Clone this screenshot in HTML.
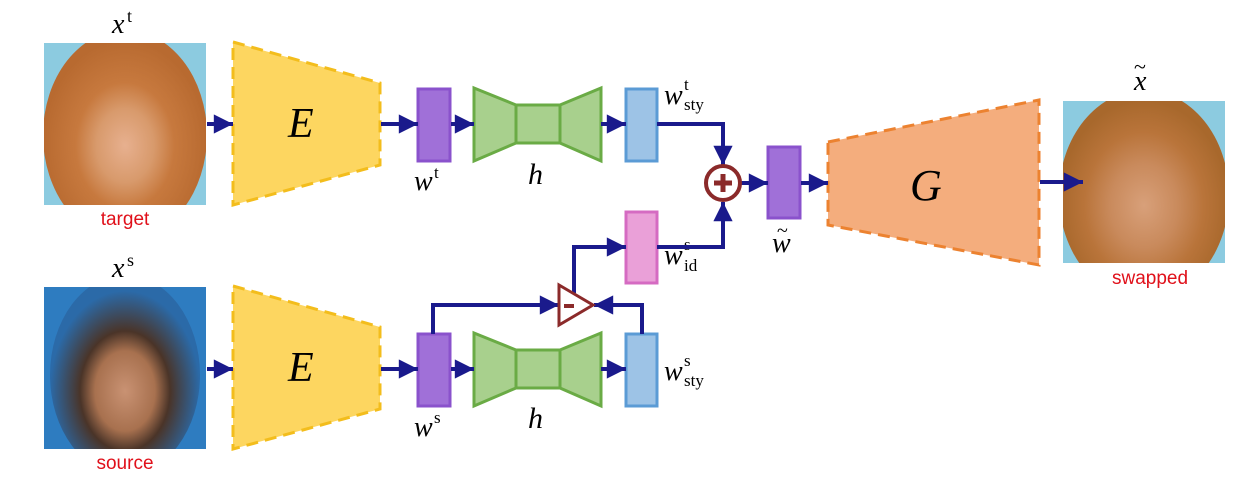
<!DOCTYPE html>
<html><head><meta charset="utf-8"><style>
html,body{margin:0;padding:0;background:#fff;width:1247px;height:495px;overflow:hidden}
svg text{font-family:"Liberation Serif",serif;font-style:italic}
.lab{font-family:"Liberation Sans",sans-serif;font-style:normal;fill:#e0101a;font-size:19px}
.up{font-style:normal}
</style></head><body>
<svg width="1247" height="495" viewBox="0 0 1247 495" xmlns="http://www.w3.org/2000/svg">
<defs>
<marker id="a" viewBox="0 0 10 10" refX="10" refY="5" markerWidth="5" markerHeight="4.8" orient="auto" markerUnits="strokeWidth"><path d="M0,0L10,5L0,10z" fill="#1a1a8c"/></marker>
<radialGradient id="fw" cx="50%" cy="55%" r="50%"><stop offset="0" stop-color="#e7b08f"/><stop offset="0.35" stop-color="#d89a6c"/><stop offset="0.6" stop-color="#c7793e"/><stop offset="1" stop-color="#b86a30"/></radialGradient>
<radialGradient id="fm" cx="50%" cy="58%" r="50%"><stop offset="0" stop-color="#c99273"/><stop offset="0.4" stop-color="#a8714f"/><stop offset="0.6" stop-color="#4a3428"/><stop offset="1" stop-color="#2b6aa8"/></radialGradient>
<radialGradient id="fs" cx="50%" cy="55%" r="50%"><stop offset="0" stop-color="#d8a07a"/><stop offset="0.4" stop-color="#c98a5c"/><stop offset="0.7" stop-color="#b9743a"/><stop offset="1" stop-color="#a8682c"/></radialGradient>
<clipPath id="c1"><rect x="44" y="43" width="162" height="162"/></clipPath>
<clipPath id="c2"><rect x="44" y="287" width="162" height="162"/></clipPath>
<clipPath id="c3"><rect x="1063" y="101" width="162" height="162"/></clipPath>
</defs>
<!-- images -->
<rect x="44" y="43" width="162" height="162" fill="#8ccbe0"/>
<ellipse cx="125" cy="135" rx="82" ry="105" fill="url(#fw)" clip-path="url(#c1)"/>
<rect x="44" y="287" width="162" height="162" fill="#2e7cc0"/>
<ellipse cx="125" cy="375" rx="75" ry="100" fill="url(#fm)" clip-path="url(#c2)"/>
<rect x="1063" y="101" width="162" height="162" fill="#8ccbe0"/>
<ellipse cx="1144" cy="195" rx="85" ry="105" fill="url(#fs)" clip-path="url(#c3)"/>
<!-- image labels -->
<text x="112" y="33" font-size="28">x</text><text x="127" y="22" font-size="18" class="up">t</text>
<text x="112" y="277" font-size="28">x</text><text x="127" y="266" font-size="18" class="up">s</text>
<text x="1134" y="90" font-size="28">x</text><text x="1134" y="74" font-size="22" class="up">~</text>
<text class="lab" x="125" y="225" text-anchor="middle">target</text>
<text class="lab" x="125" y="469" text-anchor="middle">source</text>
<text class="lab" x="1150" y="284" text-anchor="middle">swapped</text>
<!-- encoders -->
<g fill="#fdd660" stroke="#f3bd1c" stroke-width="3" stroke-dasharray="12,7">
<polygon points="233,42 380,83 380,165 233,205"/>
<polygon points="233,286 380,327 380,409 233,449"/>
</g>
<text x="288" y="137" font-size="42">E</text>
<text x="288" y="381" font-size="42">E</text>
<polygon points="828,142 1039,100 1039,265 828,225" fill="#f4ad7d" stroke="#ec8230" stroke-width="3" stroke-dasharray="12,7"/>
<text x="910" y="200" font-size="44">G</text>
<!-- mappers h -->
<g fill="#a8d08d" stroke="#6aab45" stroke-width="3">
<polygon points="474,88 516,105 516,143 474,161"/><rect x="516" y="105" width="44" height="38"/><polygon points="601,88 560,105 560,143 601,161"/>
<polygon points="474,333 516,350 516,388 474,406"/><rect x="516" y="350" width="44" height="38"/><polygon points="601,333 560,350 560,388 601,406"/>
</g>
<text x="528" y="184" font-size="30">h</text>
<text x="528" y="428" font-size="30">h</text>
<!-- latent rects -->
<g stroke-width="3">
<rect x="418" y="89" width="32" height="72" fill="#a070d8" stroke="#8a52cc"/>
<rect x="418" y="334" width="32" height="72" fill="#a070d8" stroke="#8a52cc"/>
<rect x="768" y="147" width="32" height="71" fill="#a070d8" stroke="#8a52cc"/>
<rect x="626" y="89" width="31" height="72" fill="#9dc3e6" stroke="#5b9bd5"/>
<rect x="626" y="334" width="31" height="72" fill="#9dc3e6" stroke="#5b9bd5"/>
<rect x="626" y="212" width="31" height="71" fill="#eaa0d8" stroke="#d56bc2"/>
</g>
<!-- latent labels -->
<text x="414" y="190" font-size="28">w</text><text x="434" y="178" font-size="17" class="up">t</text>
<text x="414" y="436" font-size="28">w</text><text x="434" y="423" font-size="17" class="up">s</text>
<text x="664" y="104" font-size="28">w</text><text x="684" y="90" font-size="17" class="up">t</text><text x="684" y="110" font-size="17" class="up">sty</text>
<text x="664" y="264" font-size="28">w</text><text x="684" y="250" font-size="17" class="up">s</text><text x="684" y="271" font-size="17" class="up">id</text>
<text x="664" y="380" font-size="28">w</text><text x="684" y="366" font-size="17" class="up">s</text><text x="684" y="386" font-size="17" class="up">sty</text>
<text x="772" y="252" font-size="28">w</text><text x="777" y="237" font-size="20" class="up">~</text>
<!-- connectors -->
<g stroke="#1a1a8c" stroke-width="4" fill="none" marker-end="url(#a)">
<path d="M207,124H233"/><path d="M207,369H233"/>
<path d="M381,124H418"/><path d="M381,369H418"/>
<path d="M451,124H474"/><path d="M451,369H474"/>
<path d="M601,124H626"/><path d="M601,369H626"/>
<path d="M657,124H723V165"/>
<path d="M657,247H723V202"/>
<path d="M741,183H768"/>
<path d="M801,183H828"/>
<path d="M1040,182H1083"/>
<path d="M433,334V305H559"/>
<path d="M642,334V305H594"/>
<path d="M574,293V247H626"/>
</g>
<!-- plus -->
<circle cx="723" cy="183" r="17" fill="#fff" stroke="#8b2a2a" stroke-width="4"/>
<path d="M714,183H732M723,174V192" stroke="#8b2a2a" stroke-width="5"/>
<!-- minus -->
<polygon points="559,285 593,305 559,325" fill="#fff" stroke="#8b2a2a" stroke-width="3"/>
<path d="M564,306H574" stroke="#8b2a2a" stroke-width="4"/>
</svg>
</body></html>
